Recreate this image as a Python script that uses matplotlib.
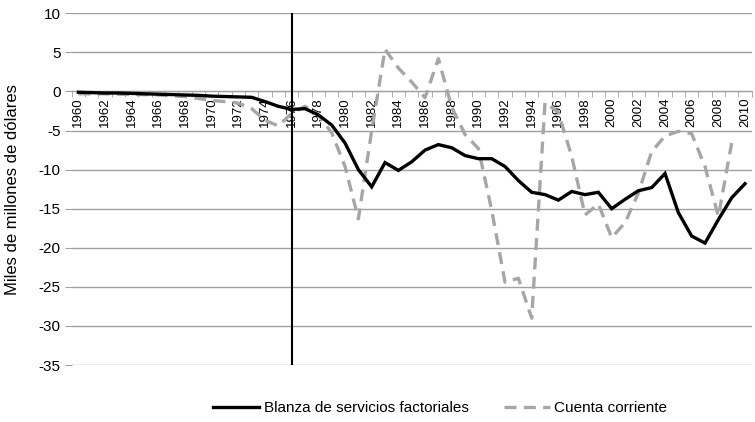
import numpy as np
import matplotlib
matplotlib.use('Agg')
import matplotlib.pyplot as plt
from matplotlib.ticker import MultipleLocator

plt.rcParams['font.family'] = ['Liberation Sans', 'DejaVu Sans']
plt.rcParams['axes.unicode_minus'] = False

years = list(range(1960, 2011))

# Blanza de servicios factoriales (1960-2010)
servicios = [-0.1, -0.15, -0.2, -0.2, -0.25, -0.3, -0.35, -0.4, -0.45, -0.5,
             -0.6, -0.65, -0.7, -0.75, -1.3, -1.9, -2.3, -2.2, -3.0, -4.3,
             -6.6, -10.0, -12.2, -9.1, -10.1, -9.0, -7.5, -6.8, -7.2, -8.2,
             -8.6, -8.6, -9.6, -11.4, -12.9, -13.2, -13.9, -12.8, -13.2, -12.9,
             -15.0, -13.8, -12.7, -12.3, -10.5, -15.5, -18.5, -19.4, -16.4, -13.6,
             -11.8]

# Cuenta corriente (1960-2009)
cuenta_years = list(range(1960, 2010))
cuenta = [-0.3, -0.3, -0.3, -0.35, -0.4, -0.4, -0.45, -0.55, -0.65, -0.9,
          -1.15, -1.3, -1.5, -2.2, -3.7, -4.4, -2.8, -1.9, -3.0, -5.3,
          -9.6, -16.3, -5.0, 5.4, 3.0, 1.2, -0.8, 4.2, -2.0, -5.5,
          -7.3, -15.2, -24.4, -23.9, -29.0, -1.4, -2.7, -8.3, -15.8, -14.4,
          -18.7, -16.8, -13.0, -7.7, -5.7, -5.1, -5.4, -9.6, -16.0, -6.6]

marca_year = 1976

fig = plt.figure(figsize=(7.55, 4.22), dpi=100)
ax = fig.add_axes([0.095, 0.135, 0.9006, 0.8335])

ax.plot(years, servicios, color='black', lw=2.4, solid_joinstyle='miter',
        label='Blanza de servicios factoriales', zorder=4)
ax.plot(cuenta_years, cuenta, color='#a6a6a6', lw=2.4, dashes=(3.6, 2.2),
        label='Cuenta corriente', zorder=3)
ax.axvline(marca_year, color='black', lw=1.5, zorder=5)

ax.set_xlim(1959.5, 2010.5)
ax.set_ylim(-35, 10)
ax.yaxis.set_major_locator(MultipleLocator(5))
ax.grid(axis='y', color='#a0a0a0', lw=1.0)
ax.set_axisbelow(True)

for s in ['top', 'right', 'left']:
    ax.spines[s].set_visible(False)
ax.spines['bottom'].set_position(('data', 0))
ax.spines['bottom'].set_color('#a0a0a0')

ax.set_xticks(years[::2])
ax.set_xticklabels([str(y) for y in years[::2]], rotation=90, fontsize=9.5)
ax.set_xticks(np.arange(1959.5, 2011, 1), minor=True)
ax.tick_params(axis='x', which='major', length=0, pad=4)
ax.tick_params(axis='x', which='minor', length=4, color='#a0a0a0', direction='out')
ax.tick_params(axis='y', length=5, color='#a0a0a0', labelsize=11, pad=3)

ax.set_ylabel('Miles de millones de dólares', fontsize=12)
ax.yaxis.set_label_coords(-0.076, 0.5)

fig.legend(loc='center', bbox_to_anchor=(0.583, 0.033), ncol=2, frameon=False,
           fontsize=11, handlelength=3.0, handletextpad=0.3, columnspacing=2.3)

fig.savefig('out.png', dpi=100)
